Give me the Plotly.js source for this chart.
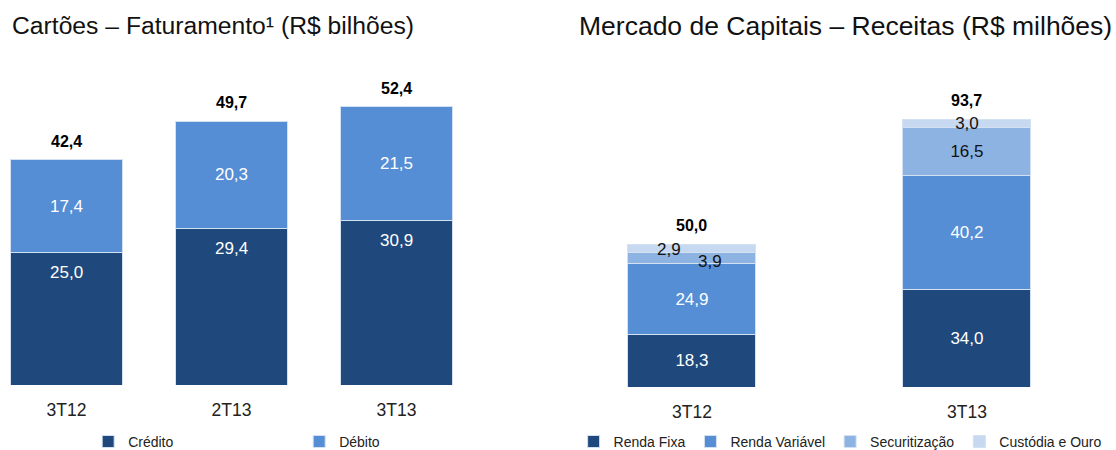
<!DOCTYPE html>
<html>
<head>
<meta charset="utf-8">
<script src="https://cdn.plot.ly/plotly-3.0.1.min.js"></script>
<style>
  html, body { margin: 0; padding: 0; background: #ffffff; }
  #chart { width: 1116px; height: 450px; }
</style>
</head>
<body>
<div id="chart"></div>
<script>
// Cartões – faturamento (R$ bilhões)
const cardQuarters = ["3T12", "2T13", "3T13"];
const credito = [25.0, 29.4, 30.9];
const debito = [17.4, 20.3, 21.5];

// Mercado de capitais – receitas (R$ milhões)
const capQuarters = ["3T12", "3T13"];
const rendaFixa = [18.3, 34.0];
const rendaVariavel = [24.9, 40.2];
const securitizacao = [3.9, 16.5];
const custodiaOuro = [2.9, 3.0];

const FONT = "Liberation Sans, Arial, sans-serif";
const colors = {
  dark: "#1f497d",
  mid: "#558ed5",
  light: "#8db3e2",
  pale: "#c6d9f1",
  edge: "#d4e1f2"
};

// 42.4 -> "42,4"
function fmt(v) {
  return v.toFixed(1).replace(".", ",");
}

function sumSeries(...series) {
  return series[0].map((_, i) => series.reduce((acc, s) => acc + s[i], 0));
}

function barTrace(name, x, y, color, textColor, xaxis, yaxis, legend, extra = {}) {
  return Object.assign({
    type: "bar",
    name,
    x,
    y,
    xaxis,
    yaxis,
    legend,
    marker: { color, line: { color: colors.edge, width: 1 } },
    texttemplate: "%{y:.1f}",
    textposition: "inside",
    insidetextanchor: "middle",
    textfont: { family: FONT, size: 17, color: textColor },
    hoverinfo: "skip",
    cliponaxis: false
  }, extra);
}

const traces = [
  // crédito labels sit near the top of the segment, added as annotations below
  barTrace("Crédito", cardQuarters, credito, colors.dark, "#ffffff", "x", "y", "legend",
    { texttemplate: "", textposition: "none" }),
  barTrace("Débito", cardQuarters, debito, colors.mid, "#ffffff", "x", "y", "legend"),
  barTrace("Renda Fixa", capQuarters, rendaFixa, colors.dark, "#ffffff", "x2", "y2", "legend2"),
  barTrace("Renda Variável", capQuarters, rendaVariavel, colors.mid, "#ffffff", "x2", "y2", "legend2"),
  // small 3T12 segments get their labels as annotations (offset sideways)
  barTrace("Securitização", capQuarters, securitizacao, colors.light, "#111111", "x2", "y2", "legend2",
    { texttemplate: ["", "%{y:.1f}"] }),
  barTrace("Custódia e Ouro", capQuarters, custodiaOuro, colors.pale, "#111111", "x2", "y2", "legend2",
    { texttemplate: ["", "%{y:.1f}"] })
];

// right chart bars are narrower relative to their slot
traces.slice(2).forEach(t => { t.width = 128 / 275; });

const cardTotals = sumSeries(credito, debito);
const capTotals = sumSeries(rendaFixa, rendaVariavel, securitizacao, custodiaOuro);

const annotations = [];

// chart titles
annotations.push({
  text: "Cartões – Faturamento¹ (R$ bilhões)",
  xref: "paper", yref: "paper", x: 0.009, y: 1.104,
  xanchor: "left", yanchor: "middle", showarrow: false,
  font: { family: FONT, size: 24.7, color: "#111111" }
});
annotations.push({
  text: "Mercado de Capitais – Receitas (R$ milhões)",
  xref: "paper", yref: "paper", x: 0.517, y: 1.104,
  xanchor: "left", yanchor: "middle", showarrow: false,
  font: { family: FONT, size: 26.5, color: "#111111" }
});

// crédito values, just under the top of the dark segment
cardQuarters.forEach((q, i) => {
  annotations.push({
    text: fmt(credito[i]),
    x: q, y: credito[i], xref: "x", yref: "y",
    yanchor: "middle", yshift: -20, showarrow: false,
    font: { family: FONT, size: 17, color: "#ffffff" }
  });
});

// bold totals above the bars
cardQuarters.forEach((q, i) => {
  annotations.push({
    text: "<b>" + fmt(cardTotals[i]) + "</b>",
    x: q, y: cardTotals[i], xref: "x", yref: "y",
    yanchor: "bottom", yshift: 8, showarrow: false,
    font: { family: FONT, size: 16, color: "#000000" }
  });
});
capQuarters.forEach((q, i) => {
  annotations.push({
    text: "<b>" + fmt(capTotals[i]) + "</b>",
    x: q, y: capTotals[i], xref: "x2", yref: "y2",
    yanchor: "bottom", yshift: 8, showarrow: false,
    font: { family: FONT, size: 16, color: "#000000" }
  });
});

// 3T12 thin segments: labels nudged left / right like the original
const base3T12 = rendaFixa[0] + rendaVariavel[0];
annotations.push({
  text: fmt(securitizacao[0]),
  x: capQuarters[0], y: base3T12 + securitizacao[0] / 2, xref: "x2", yref: "y2",
  xshift: 18, yshift: -3, showarrow: false,
  font: { family: FONT, size: 17, color: "#111111" }
});
annotations.push({
  text: fmt(custodiaOuro[0]),
  x: capQuarters[0], y: base3T12 + securitizacao[0] + custodiaOuro[0] / 2, xref: "x2", yref: "y2",
  xshift: -23, yshift: -1, showarrow: false,
  font: { family: FONT, size: 17, color: "#111111" }
});

const tickFont = { family: FONT, size: 17.5, color: "#222222" };
const legendFont = { family: FONT, size: 14, color: "#222222" };

const layout = {
  width: 1116,
  height: 450,
  margin: { l: 0, r: 0, t: 60, b: 63, pad: 0, autoexpand: false },
  paper_bgcolor: "#ffffff",
  plot_bgcolor: "#ffffff",
  separators: ",.",
  barmode: "stack",
  uniformtext: { minsize: 17, mode: "show" },
  font: { family: FONT, color: "#222222" },
  xaxis: {
    domain: [0, 495 / 1116],
    range: [-0.403, 2.597],
    type: "category",
    showline: false, showgrid: false, zeroline: false,
    ticks: "", tickfont: tickFont, ticklabelstandoff: 12,
    anchor: "y", automargin: false
  },
  yaxis: {
    domain: [2 / 327, 1],
    range: [0, 61.2],
    visible: false,
    anchor: "x"
  },
  xaxis2: {
    domain: [555 / 1116, 1],
    range: [-0.498, 1.542],
    type: "category",
    showline: false, showgrid: false, zeroline: false,
    ticks: "", tickfont: tickFont, ticklabelstandoff: 12,
    anchor: "y2", automargin: false
  },
  yaxis2: {
    domain: [0, 1],
    range: [0, 114.5],
    visible: false,
    anchor: "x2"
  },
  bargap: 0.327,
  showlegend: true,
  legend: {
    orientation: "h",
    yref: "container",
    x: 0.079, y: 0.018, xanchor: "left", yanchor: "middle",
    entrywidth: 166, entrywidthmode: "pixels",
    font: legendFont,
    bgcolor: "rgba(0,0,0,0)",
    traceorder: "normal"
  },
  legend2: {
    orientation: "h",
    yref: "container",
    x: 0.514, y: 0.018, xanchor: "left", yanchor: "middle",
    font: legendFont,
    bgcolor: "rgba(0,0,0,0)",
    traceorder: "normal"
  },
  annotations
};

Plotly.newPlot("chart", traces, layout, { displayModeBar: false, staticPlot: true });
</script>
</body>
</html>
